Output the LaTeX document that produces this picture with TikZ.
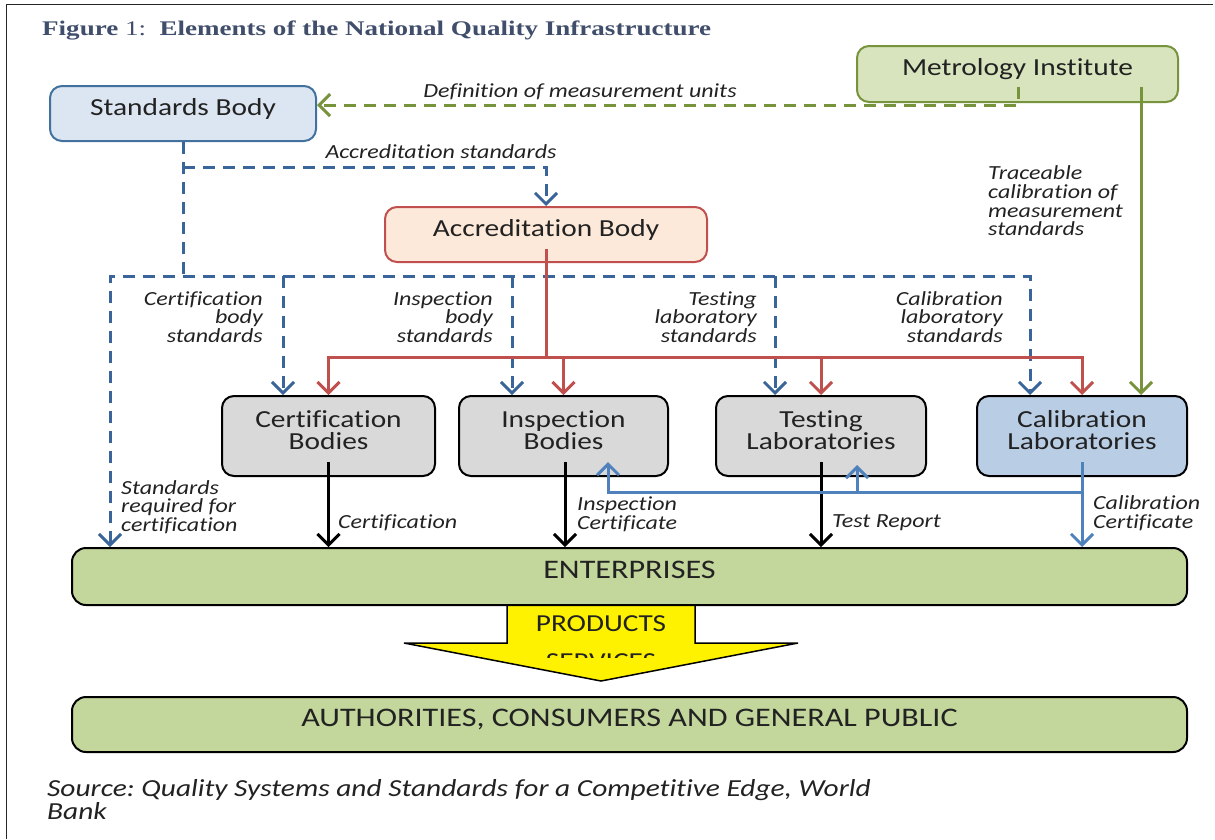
\documentclass[tikz,border=0pt]{standalone}
\usepackage{fontspec}
\setmainfont{Carlito}[FakeStretch=1.2, RawFeature=-liga]
\newfontfamily\titlefont{Liberation Serif}[FakeStretch=1.3]
\usetikzlibrary{arrows.meta,calc}
\frenchspacing

\definecolor{sbfill}{HTML}{DCE6F2}
\definecolor{sbdraw}{HTML}{41719C}
\definecolor{mifill}{HTML}{D7E4BD}
\definecolor{midraw}{HTML}{77933C}
\definecolor{abfill}{HTML}{FDE9D9}
\definecolor{abdraw}{HTML}{C0504D}
\definecolor{grayfill}{HTML}{D9D9D9}
\definecolor{clfill}{HTML}{B9CDE5}
\definecolor{entfill}{HTML}{C3D69B}
\definecolor{dashblue}{HTML}{3A659A}
\definecolor{calblue}{HTML}{4F81BD}
\definecolor{labc}{HTML}{222222}
\definecolor{titc}{HTML}{404E6B}

\begin{document}
\begin{tikzpicture}[x=1pt,y=-1pt,
  >={Straight Barb[length=11pt,width=22pt]},
  box/.style={draw, rounded corners=12pt, line width=2pt, inner sep=0pt,
    align=center, text=labc, font=\fontsize{24.5}{22.5}\selectfont,
    text height=16pt, text depth=12.2pt},
  twoline/.style={text height=36.5pt, text depth=9.2pt},
  wide/.style={box, rounded corners=14pt, fill=entfill, draw=black,
    minimum width=1115pt, font=\fontsize{26.8}{24}\selectfont,
    text height=16pt, text depth=11.8pt},
  lab/.style={inner sep=0pt, text=labc, font=\fontsize{20}{18.7}\selectfont\itshape},
  bdash/.style={draw=dashblue, line width=3pt, dash pattern=on 12pt off 8pt},
  gdash/.style={draw=midraw, line width=3pt, dash pattern=on 12pt off 8pt},
  rline/.style={draw=abdraw, line width=3pt},
  gline/.style={draw=midraw, line width=3pt},
  kline/.style={draw=black, line width=3pt},
  cline/.style={draw=calblue, line width=3pt}]

\useasboundingbox (0,0) rectangle (1215,839);

% page frame
\draw[line width=1pt, black!85] (6,839) -- (6,4) -- (1213,4);

% title
\node[anchor=west, inner sep=0pt, text=titc, font=\titlefont\fontsize{20.8}{21}\selectfont]
  (title) at (42,30) {\bfseries Figure \mdseries 1:\ \ \bfseries Elements of the National Quality Infrastructure};

% products / services arrow (under the enterprises box)
\path[fill=yellow, draw=black, line width=1.5pt]
  (507,600) -- (695,600) -- (695,643) -- (798,643) -- (601,681)
  -- (404,643) -- (507,643) -- cycle;
\node[inner sep=0pt, text=labc, font=\fontsize{24.4}{24}\selectfont] (prod) at (601,624) {PRODUCTS};
\begin{scope}
  \clip (500,646) rectangle (700,657);
  \node[inner sep=0pt, text=labc, font=\fontsize{24.4}{24}\selectfont] (serv) at (601,662) {SERVICES};
\end{scope}

% boxes
\node[box, fill=sbfill, draw=sbdraw, minimum width=266pt, minimum height=55pt] (sb) at (183,113.5) {Standards Body};
\node[box, fill=mifill, draw=midraw, minimum width=321pt, minimum height=56pt] (mi) at (1017.5,74) {Metrology Institute};
\node[box, fill=abfill, draw=abdraw, minimum width=322pt, minimum height=55pt] (ab) at (546,234.5) {Accreditation Body};

\node[box, twoline, fill=grayfill, draw=black, minimum width=213pt, minimum height=80pt] (cb) at (328.5,436) {Certification\\Bodies};
\node[box, twoline, fill=grayfill, draw=black, minimum width=209pt, minimum height=80pt] (ib) at (563.5,436) {Inspection\\Bodies};
\node[box, twoline, fill=grayfill, draw=black, minimum width=210pt, minimum height=80pt] (tl) at (821,436) {Testing\\Laboratories};
\node[box, twoline, fill=clfill, draw=black, minimum width=210pt, minimum height=80pt] (cl) at (1082,436) {Calibration\\Laboratories};

\node[wide, minimum height=57pt] (ent) at (629.5,576.5) {ENTERPRISES};
\node[wide, minimum height=55pt] (auth) at (629.5,724.5) {AUTHORITIES, CONSUMERS AND GENERAL PUBLIC};

% junction and end points
\coordinate (gd) at (1018,87);
\coordinate (gdc) at (1018,105);
\coordinate (gs) at (1141,87);
\coordinate (aj) at (183,167);
\coordinate (bj) at (183,276);
\coordinate (busL) at (110,276);
\coordinate (busR) at (1030,276);
\coordinate (d1) at (283,276);
\coordinate (d2) at (512,276);
\coordinate (d3) at (775,276);
\coordinate (rs) at (546,249);
\coordinate (rj) at (546,357);
\coordinate (cbs) at (328.5,462);
\coordinate (ibs) at (565,462);
\coordinate (tls) at (821,462);
\coordinate (cls) at (1082,462);
\coordinate (cj) at (1082,492);
\coordinate (ibt) at (608,462);
\coordinate (tlt) at (857,465);

% metrology links
\draw[gdash,->] (gd) -- (gdc) -- (sb.east |- gdc);
\draw[gline,->] (gs) -- (cl.north -| gs);

% standards body links
\draw[bdash] (sb.south) -- (bj);
\draw[bdash,->] (aj) -| (ab.north);
\draw[bdash,<->] (ent.north -| busL) -- (busL) -- (busR) -- (cl.north -| busR);
\draw[bdash,->] (d1) -- (cb.north -| d1);
\draw[bdash,->] (d2) -- (ib.north -| d2);
\draw[bdash,->] (d3) -- (tl.north -| d3);

% accreditation links
\draw[rline] (rs) -- (rj);
\draw[rline,<->] (cb.north) |- (rj) -| (cl.north);
\draw[rline,->] (rj -| ib.north) -- (ib.north);
\draw[rline,->] (rj -| tl.north) -- (tl.north);

% outputs to enterprises
\draw[kline,->] (cbs) -- (ent.north -| cbs);
\draw[kline,->] (ibs) -- (ent.north -| ibs);
\draw[kline,->] (tls) -- (ent.north -| tls);
\draw[cline,->] (cls) -- (ent.north -| cls);
\draw[cline,->] (cj) -| (ibt);
\draw[cline,->] (tlt |- cj) -- (tlt);

% connector labels
\node[lab] (l1) at (580,92) {Definition of measurement units};
\node[lab] (l2) at (441,152) {Accreditation standards};
\node[lab, anchor=west, align=left] (l3) at (988,201) {Traceable\\calibration of\\measurement\\standards};
\node[lab, anchor=east, align=right] (l4) at (263,317) {Certification\\body\\standards};
\node[lab, anchor=east, align=right] (l5) at (493,317) {Inspection\\body\\standards};
\node[lab, anchor=east, align=right] (l6) at (757,317) {Testing\\laboratory\\standards};
\node[lab, anchor=east, align=right] (l7) at (1003,317) {Calibration\\laboratory\\standards};
\node[lab, anchor=west, align=left] (l8) at (121,507) {Standards\\required for\\certification};
\node[lab, anchor=west] (l9) at (338,523) {Certification};
\node[lab, anchor=west, align=left] (l10) at (577,514) {Inspection\\Certificate};
\node[lab, anchor=west] (l11) at (832,523) {Test Report};
\node[lab, anchor=west, align=left] (l12) at (1093,513) {Calibration\\Certificate};

% source note
\node[anchor=west, align=left, inner sep=0pt, text=labc, font=\fontsize{24.5}{23}\selectfont\itshape]
  (src) at (47,799.5) {Source: Quality Systems and Standards for a Competitive Edge, World\\Bank};

\end{tikzpicture}
\end{document}
